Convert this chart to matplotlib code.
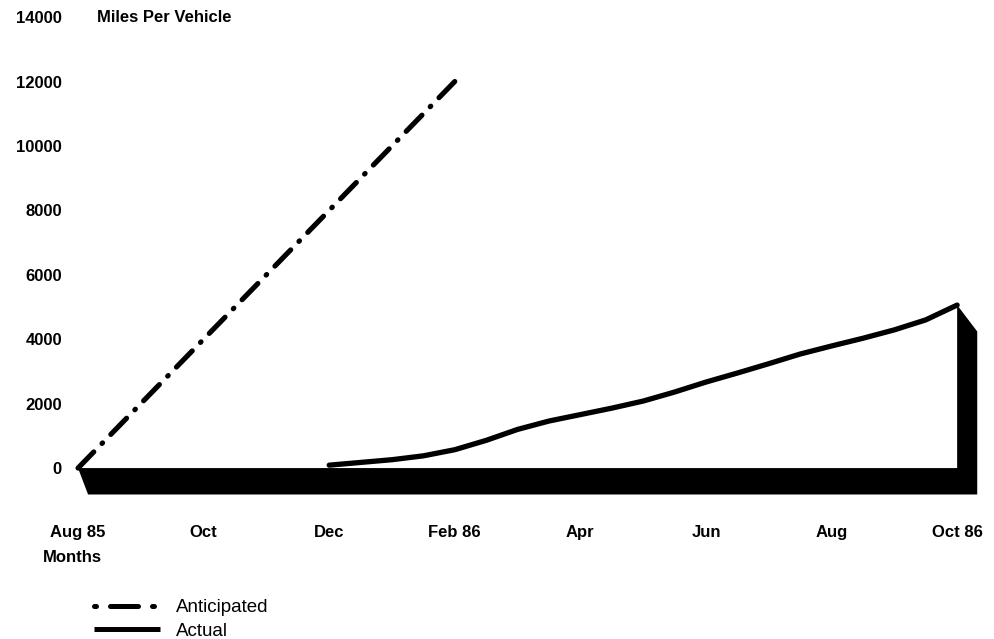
import matplotlib
matplotlib.use("Agg")
import matplotlib.pyplot as plt
from matplotlib.lines import Line2D

# Months counted from Aug 85 (0) to Oct 86 (14)
tick_months = [0, 2, 4, 6, 8, 10, 12, 14]
tick_labels = ["Aug 85", "Oct", "Dec", "Feb 86", "Apr", "Jun", "Aug", "Oct 86"]
y_ticks = [0, 2000, 4000, 6000, 8000, 10000, 12000, 14000]

anticipated_months = [0, 6]
anticipated_miles = [0, 12000]

# every half month
actual_months = [4, 4.5, 5, 5.5, 6, 6.5, 7, 7.5, 8, 8.5, 9, 9.5, 10, 10.5,
                 11, 11.5, 12, 12.5, 13, 13.5, 14]
actual_miles = [90, 175, 260, 380, 570, 860, 1200, 1460, 1660, 1860, 2080,
                2360, 2670, 2950, 3240, 3540, 3790, 4030, 4290, 4600, 5060]

plt.rcParams['font.family'] = ['Liberation Sans', 'DejaVu Sans']

fig = plt.figure(figsize=(9.94, 6.39), dpi=100)
ax = fig.add_axes([0.0469, 0.2070, 0.9476, 0.7814])
ax.set_xlim(-0.5, 14.5)
ax.set_ylim(-1200, 14300)
for s in ax.spines.values():
    s.set_visible(False)

# 3D ribbon shadow under the baseline and down the right end
depth_x, depth_y = 0.32, 820
x_end, y_end = actual_months[-1], actual_miles[-1]
shadow = [(anticipated_months[0], 0), (x_end, 0), (x_end, y_end),
          (x_end + depth_x, y_end - depth_y), (x_end + depth_x, -depth_y),
          (anticipated_months[0] + depth_x * 0.5, -depth_y)]
ax.fill([p[0] for p in shadow], [p[1] for p in shadow], color="black", lw=0)

# dash pattern chosen so both ends of the line finish on a dash
ax.plot(anticipated_months[::-1], anticipated_miles[::-1], color="black",
        lw=3.7, ls=(0, (4.4, 2.3, 0.15, 2.3)), dash_capstyle="round")
ax.plot(actual_months, actual_miles, color="black", lw=3.8,
        solid_capstyle="round", solid_joinstyle="round")

ax.set_xticks(tick_months)
ax.set_xticklabels(tick_labels, fontsize=12, fontweight="bold")
ax.set_yticks(y_ticks)
ax.set_yticklabels([str(v) for v in y_ticks], fontsize=12, fontweight="bold")
ax.tick_params(axis="x", length=0, pad=13)
ax.tick_params(axis="y", length=0, pad=-11)

ax.text(0.3, 14000, "Miles Per Vehicle", fontsize=12, fontweight="bold",
        va="center", ha="left")
fig.text(43 / 994, 1 - 557 / 639, "Months", fontsize=12, fontweight="bold",
         va="center", ha="left")

handles = [
    Line2D([], [], color="black", lw=3.6, ls=(0, (0.4, 2.8, 5.6, 2.8)),
           dash_capstyle="round"),
    Line2D([], [], color="black", lw=3.6, solid_capstyle="butt"),
]
fig.legend(handles, ["Anticipated", "Actual"], loc="upper left",
           bbox_to_anchor=(94 / 994, 1 - 599 / 639), frameon=False,
           fontsize=13.5, handlelength=3.5, handletextpad=0.85,
           borderpad=0, borderaxespad=0, labelspacing=0.36)

fig.savefig("out.png", dpi=100)
